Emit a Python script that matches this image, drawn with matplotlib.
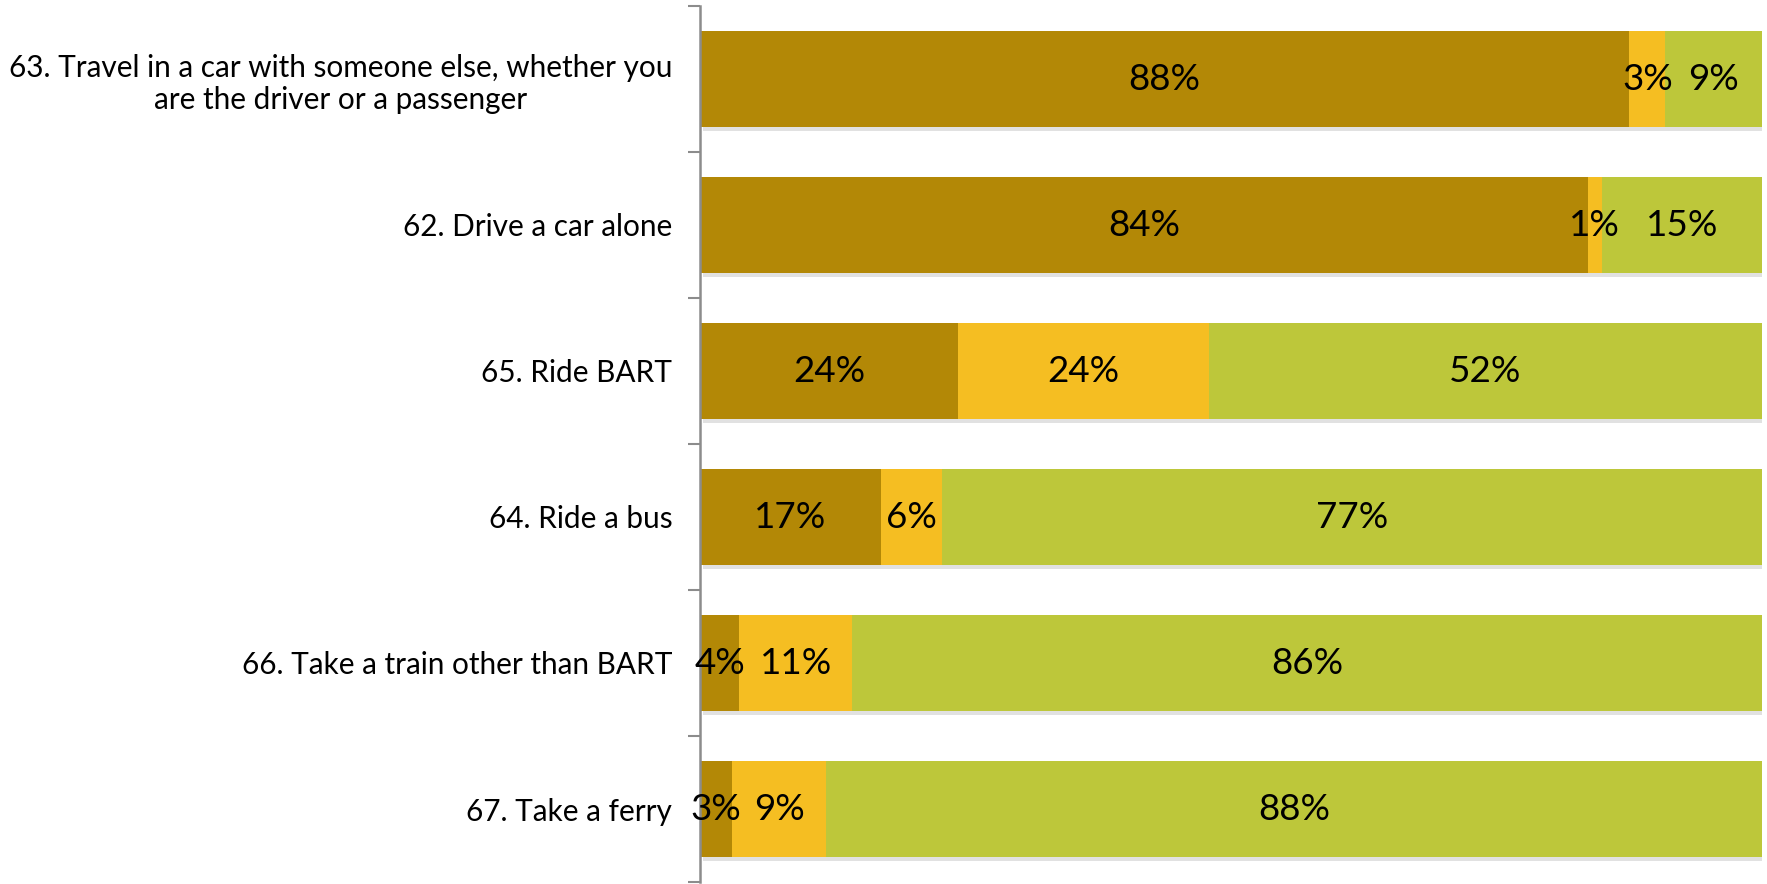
import matplotlib.pyplot as plt
import matplotlib.patheffects as pe
import numpy as np

plt.rcParams['font.family'] = ['Lato', 'DejaVu Sans']

# survey items, top to bottom
questions = [
    "63. Travel in a car with someone else, whether you\nare the driver or a passenger",
    "62. Drive a car alone",
    "65. Ride BART",
    "64. Ride a bus",
    "66. Take a train other than BART",
    "67. Take a ferry",
]

# share of respondents per answer group (percent)
often = [87.5, 83.6, 24.3, 17.0, 3.7, 3.0]
sometimes = [3.4, 1.3, 23.6, 5.8, 10.6, 8.9]
never = [9.1, 15.1, 52.1, 77.2, 85.7, 88.1]

colors = ["#B38806", "#F5BE22", "#BDC73A"]

fig = plt.figure(figsize=(17.67, 8.84), dpi=100)
ax = fig.add_axes([700 / 1767, 2 / 884, 1062 / 1767, 876 / 884])

y = np.arange(len(questions))
shadow = [pe.SimplePatchShadow(offset=(2, -3), shadow_rgbFace="#888888", alpha=0.25),
          pe.Normal()]

left = np.zeros(len(questions))
for vals, col in zip([often, sometimes, never], colors):
    vals = np.array(vals)
    ax.barh(y, vals, left=left, height=0.66, color=col,
            edgecolor="none", path_effects=shadow)
    for yi, v, l in zip(y, vals, left):
        ax.text(l + v / 2, yi, f"{v:.0f}%", ha="center", va="center",
                fontsize=26.5, color="black")
    left += vals

ax.set_xlim(0, left.max())
ax.set_ylim(len(questions) - 0.5, -0.5)

ax.set_yticks(y)
ax.set_yticklabels(questions, fontsize=21.4)
ax.tick_params(axis="y", which="major", length=0, pad=20)
for lbl in ax.get_yticklabels():
    lbl.set_horizontalalignment("right")
    lbl.set_multialignment("center")
ax.set_yticks(np.arange(len(questions) + 1) - 0.5, minor=True)
ax.tick_params(axis="y", which="minor", length=9, width=1.5, color="#8c8c8c")

ax.set_xticks([])
for side in ["top", "right", "bottom"]:
    ax.spines[side].set_visible(False)
ax.spines["left"].set_color("#8c8c8c")
ax.spines["left"].set_linewidth(1.8)

fig.savefig("out.png", dpi=100)
